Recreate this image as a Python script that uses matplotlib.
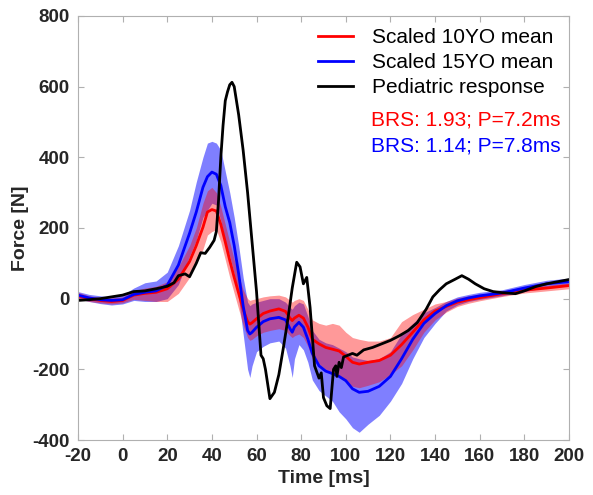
import matplotlib.pyplot as plt

plt.rcParams['font.family'] = ['Liberation Sans', 'DejaVu Sans']
plt.rcParams['axes.unicode_minus'] = False

# time grid shared by the two scaled corridors
t = [-20, -15, -10, -5, 0, 5, 10, 15, 20, 25, 30, 33, 36, 38, 40, 42, 44, 46, 48, 50,
     52, 54, 56, 57, 58, 60, 63, 66, 70, 73, 75, 76, 77, 79, 81, 83, 85, 88, 91, 94,
     97, 100, 103, 106, 110, 115, 120, 125, 130, 135, 140, 145, 150, 155, 160, 170,
     180, 190, 200]

red_mean = [8, 0, -5, -8, -5, 10, 15, 18, 28, 55, 105, 150, 202, 245, 252, 248, 210, 160, 108, 60,
            15, -30, -65, -72, -68, -57, -42, -35, -29, -36, -55, -62, -55, -47, -55, -80, -115, -128, -138, -143,
            -148, -163, -180, -185, -180, -175, -160, -130, -95, -60, -35, -22, -10, -3, 3, 14,
            24, 30, 37]
red_hi = [18, 8, 3, 2, 5, 22, 30, 35, 48, 90, 150, 200, 270, 305, 315, 300, 260, 210, 160, 110,
          65, 25, 0, -5, -3, 0, 5, 8, 10, 5, -5, -10, -5, 0, -5, -30, -60, -70, -75, -70,
          -75, -95, -110, -115, -120, -120, -110, -65, -45, -30, -15, -8, 2, 8, 12, 22,
          32, 38, 45]
red_lo = [0, -8, -12, -15, -12, -2, -5, -8, -8, 15, 60, 100, 140, 180, 190, 195, 160, 110, 60, 15,
          -30, -75, -110, -118, -115, -105, -95, -90, -85, -90, -105, -110, -105, -100, -110, -135, -170, -185, -200, -210,
          -220, -235, -248, -252, -245, -235, -215, -190, -145, -95, -60, -38, -22, -13, -6, 6,
          16, 22, 28]

blue_mean = [10, 2, -3, -5, -3, 12, 18, 22, 38, 95, 185, 245, 315, 345, 358, 352, 320, 260, 215, 150,
             70, -20, -90, -100, -95, -81, -65, -57, -53, -60, -85, -95, -80, -67, -81, -115, -155, -190, -205, -212,
             -220, -232, -255, -265, -262, -248, -220, -170, -115, -70, -42, -20, -6, 2, 8, 16,
             30, 42, 48]
blue_hi = [20, 12, 8, 5, 10, 30, 45, 50, 75, 150, 250, 330, 400, 440, 445, 440, 420, 360, 300, 230,
           150, 60, -10, -20, -15, -10, -5, 0, 0, -10, -25, -30, -20, -10, -15, -50, -90, -115, -125, -130,
           -140, -150, -165, -170, -175, -170, -150, -100, -70, -40, -25, -8, 5, 12, 18, 25,
           40, 52, 58]
blue_lo = [0, -8, -14, -18, -15, -5, -8, -8, 0, 40, 120, 165, 230, 250, 270, 265, 220, 160, 120, 70,
           0, -100, -200, -223, -190, -150, -135, -125, -120, -140, -190, -223, -170, -130, -145, -180, -230, -260, -275, -290,
           -320, -340, -365, -378, -355, -330, -290, -240, -170, -110, -70, -35, -18, -8, -2, 8,
           20, 32, 38]

# pediatric response
t_ped = [-20, -15, -10, -5, 0, 5, 10, 15, 20, 23, 25, 28, 30, 33, 35, 37, 39, 41, 42, 43,
         44, 45, 46, 47, 48, 49, 50, 52, 54, 56, 58, 60, 62, 63, 64, 66, 68, 70, 72, 74,
         76, 78, 79.5, 81, 82.5, 84, 86, 88, 89, 90, 91.5, 93, 94.5, 95.5, 96, 97, 98, 99,
         101, 103, 105, 108, 112, 116, 120, 124, 128, 132, 136, 139, 142, 145, 149, 152,
         155, 158, 162, 166, 170, 176, 180, 185, 190, 195, 200]
f_ped = [-5, -3, 0, 5, 10, 20, 22, 28, 35, 45, 65, 70, 62, 100, 130, 128, 145, 165, 190, 280,
         400, 490, 560, 585, 605, 612, 600, 520, 420, 300, 160, 20, -160, -170, -200, -283, -265, -215, -140, -60,
         30, 103, 90, 42, 60, -25, -190, -225, -210, -280, -303, -311, -200, -190, -220, -180, -195, -165,
         -160, -155, -160, -145, -138, -128, -118, -105, -90, -68, -30, 5, 25, 42, 55, 65,
         55, 42, 28, 20, 17, 14, 22, 34, 42, 48, 54]

fig = plt.figure(figsize=(5.93, 4.95), dpi=100)
ax = fig.add_axes([0.1315, 0.111, 0.828, 0.857])

ax.fill_between(t, blue_lo, blue_hi, color='#0000ff', alpha=0.5, linewidth=0)
ax.fill_between(t, red_lo, red_hi, color='#ff0000', alpha=0.4, linewidth=0)
ax.plot(t, red_mean, color='#ff0000', lw=2, label='Scaled 10YO mean')
ax.plot(t, blue_mean, color='#0000ff', lw=2, label='Scaled 15YO mean')
ax.plot(t_ped, f_ped, color='black', lw=2, label='Pediatric response')

ax.set_xlim(-20, 200)
ax.set_ylim(-400, 800)
ax.set_xticks(range(-20, 201, 20))
ax.set_yticks(range(-400, 801, 200))
ax.tick_params(direction='in', top=True, right=True, length=4, color='#b0b0b0',
               labelsize=13.5, pad=6)
for lab in ax.get_xticklabels() + ax.get_yticklabels():
    lab.set_fontweight('bold')
    lab.set_color('#262626')
for s in ax.spines.values():
    s.set_color('#b0b0b0')

ax.set_xlabel('Time [ms]', fontsize=14, fontweight='bold', color='#262626', labelpad=3)
ax.set_ylabel('Force [N]', fontsize=14, fontweight='bold', color='#262626', labelpad=2)

ax.legend(loc='upper right', frameon=False, fontsize=15, handlelength=1.7,
          borderaxespad=0.0, labelspacing=0.28, handletextpad=0.9,
          bbox_to_anchor=(0.985, 0.99))
ax.text(0.596, 0.755, 'BRS: 1.93; P=7.2ms', color='#ff0000', fontsize=15,
        transform=ax.transAxes, va='center')
ax.text(0.596, 0.692, 'BRS: 1.14; P=7.8ms', color='#0000ff', fontsize=15,
        transform=ax.transAxes, va='center')

fig.savefig('out.png', dpi=100)
